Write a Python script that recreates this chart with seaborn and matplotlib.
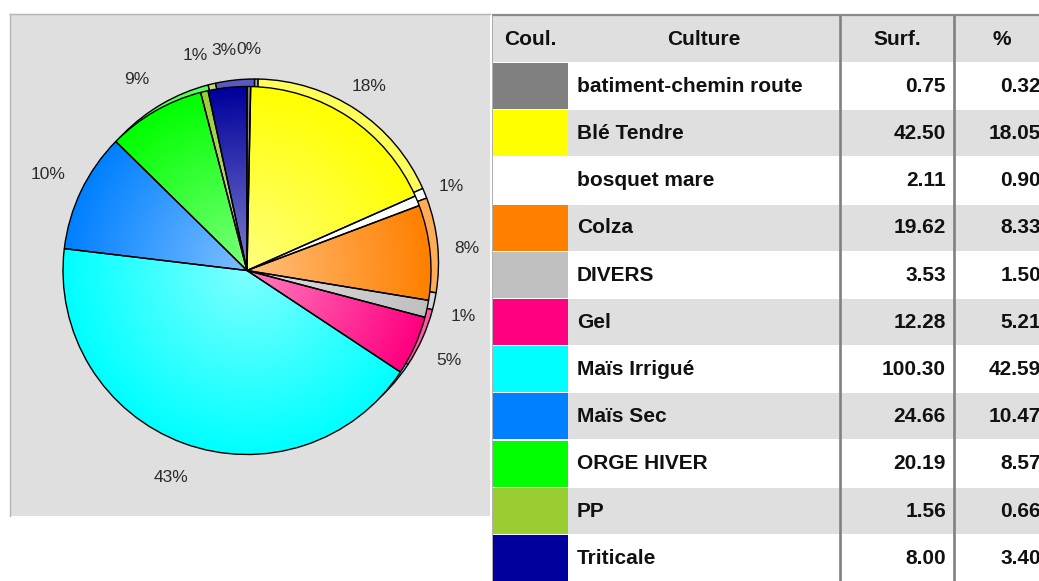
import numpy as np
import matplotlib.pyplot as plt
import matplotlib.colors as mcolors
from matplotlib.patches import Circle, Rectangle
import seaborn as sns

# --- DATA ---
CULTURES = ["batiment-chemin route", "Blé Tendre", "bosquet mare", "Colza", "DIVERS",
            "Gel", "Maïs Irrigué", "Maïs Sec", "ORGE HIVER", "PP", "Triticale"]
SURFACES = [0.75, 42.50, 2.11, 19.62, 3.53, 12.28, 100.30, 24.66, 20.19, 1.56, 8.00]
PERCENTS = [0.32, 18.05, 0.90, 8.33, 1.50, 5.21, 42.59, 10.47, 8.57, 0.66, 3.40]
PIE_LABELS = ["0%", "18%", "1%", "8%", "1%", "5%", "43%", "10%", "9%", "1%", "3%"]
COLORS = ["#808080", "#FFFF00", "#FFFFFF", "#FF8000", "#C0C0C0", "#FF0080",
          "#00FFFF", "#0080FF", "#00FF00", "#9ACD32", "#00009C"]
HEADERS = ["Coul.", "Culture", "Surf.", "%"]

# --- LAYOUT (pixels) ---
W, H = 1039, 581
R = 184.0                      # pie radius in px
CX, CY = 247, 270.5            # pie centre in px
PANEL = (10, 14, 490, 516)     # left, top, right, bottom
PANEL_BG = "#DFDFDF"


def lighten(c, amount):
    r, g, b = mcolors.to_rgb(c)
    return (r + (1 - r) * amount, g + (1 - g) * amount, b + (1 - b) * amount)


sns.set_theme(style="white")
plt.rcParams["font.family"] = ["Liberation Sans", "DejaVu Sans"]

fig = plt.figure(figsize=(W / 100, H / 100), dpi=100)
fig.patch.set_facecolor("white")

# ---------------- pie ----------------
pl, pt, pr, pb = PANEL
ax = fig.add_axes([pl / W, (H - pb) / H, (pr - pl) / W, (pb - pt) / H])
palette = sns.color_palette(COLORS)
rim_colors = [lighten(c, 0.35) for c in palette]
off = 7.5 / R
edge = dict(edgecolor="black", linewidth=1.0)

# back "3D" rim
ax.pie(SURFACES, colors=rim_colors, startangle=90, counterclock=False,
       center=(off, off), wedgeprops=edge)
# main pie
wedges, texts = ax.pie(SURFACES, labels=PIE_LABELS, colors=palette, startangle=90,
                       counterclock=False, labeldistance=1.2,
                       wedgeprops=dict(edgecolor="none"),
                       textprops=dict(fontsize=12.5, color="#2b2b2b"))
for t in texts:
    t.set_horizontalalignment("center")
    t.set_verticalalignment("center")

# radial light gradient over the main pie
n = 400
g = np.linspace(-1, 1, n)
xx, yy = np.meshgrid(g, g)
rr = np.sqrt(xx ** 2 + yy ** 2)
img = np.ones((n, n, 4))
img[..., 3] = 0.5 * np.clip(1 - rr, 0, 1)
im = ax.imshow(img, extent=(-1, 1, -1, 1), origin="lower", zorder=3,
               interpolation="bilinear")
im.set_clip_path(Circle((0, 0), 1, transform=ax.transData))

# outlines on top
ax.pie(SURFACES, colors=["none"] * len(SURFACES), startangle=90, counterclock=False,
       wedgeprops=dict(edgecolor="black", linewidth=1.0, zorder=4))

ax.set_xlim((pl - CX) / R, (pr - CX) / R)
ax.set_ylim((CY - pb) / R, (CY - pt) / R)
ax.set_aspect("auto")
ax.set_frame_on(True)
ax.set_facecolor(PANEL_BG)
for side in ["right", "bottom"]:
    ax.spines[side].set_visible(False)
for side in ["left", "top"]:
    ax.spines[side].set_visible(True)
    ax.spines[side].set_color("#b4b4b4")
    ax.spines[side].set_linewidth(1.0)
ax.set_xticks([])
ax.set_yticks([])

# ---------------- table ----------------
tx = fig.add_axes([492 / W, 0, 1 - 492 / W, 1])
tx.set_xlim(492, W)
tx.set_ylim(H, 0)
tx.axis("off")

COL_EDGES = [492, 568, 840, 954, 1050]
HEAD_TOP, HEAD_BOT = 15, 61.7
ROW_H = 47.2
GRID = "#808080"

tx.add_patch(Rectangle((COL_EDGES[0], HEAD_TOP), COL_EDGES[-1] - COL_EDGES[0],
                       HEAD_BOT - HEAD_TOP, facecolor=PANEL_BG, edgecolor="none"))
head_font = dict(fontsize=15, fontweight="bold", color="#111111", va="center")
for j, h in enumerate(HEADERS):
    xc = (COL_EDGES[j] + COL_EDGES[j + 1]) / 2
    tx.text(xc, (HEAD_TOP + HEAD_BOT) / 2 + 1, h, ha="center", **head_font)

for i, name in enumerate(CULTURES):
    y0 = HEAD_BOT + i * ROW_H
    bg = "white" if i % 2 == 0 else PANEL_BG
    tx.add_patch(Rectangle((COL_EDGES[1], y0 + 1.2), COL_EDGES[-1] - COL_EDGES[1],
                           ROW_H - 1.2, facecolor=bg, edgecolor="none"))
    tx.add_patch(Rectangle((COL_EDGES[0] + 1, y0 + 1.2), COL_EDGES[1] - COL_EDGES[0] - 1,
                           ROW_H - 1.2, facecolor=COLORS[i], edgecolor="none"))
    ym = y0 + ROW_H / 2 + 1
    tx.text(577, ym, name, ha="left", **head_font)
    tx.text(COL_EDGES[2] + 106, ym, f"{SURFACES[i]:.2f}", ha="right", **head_font)
    tx.text(COL_EDGES[3] + 87, ym, f"{PERCENTS[i]:.2f}", ha="right", **head_font)

for xv in COL_EDGES[2:4]:
    tx.plot([xv, xv], [HEAD_TOP, H], color=GRID, lw=1.9, solid_capstyle="butt")
tx.plot([COL_EDGES[0], W], [HEAD_TOP, HEAD_TOP], color="#8a8a8a", lw=1.6,
        solid_capstyle="butt")
tx.plot([COL_EDGES[0], COL_EDGES[0]], [HEAD_TOP, H], color="#a0a0a0", lw=1.2,
        solid_capstyle="butt")

fig.savefig("out.png", dpi=100)
